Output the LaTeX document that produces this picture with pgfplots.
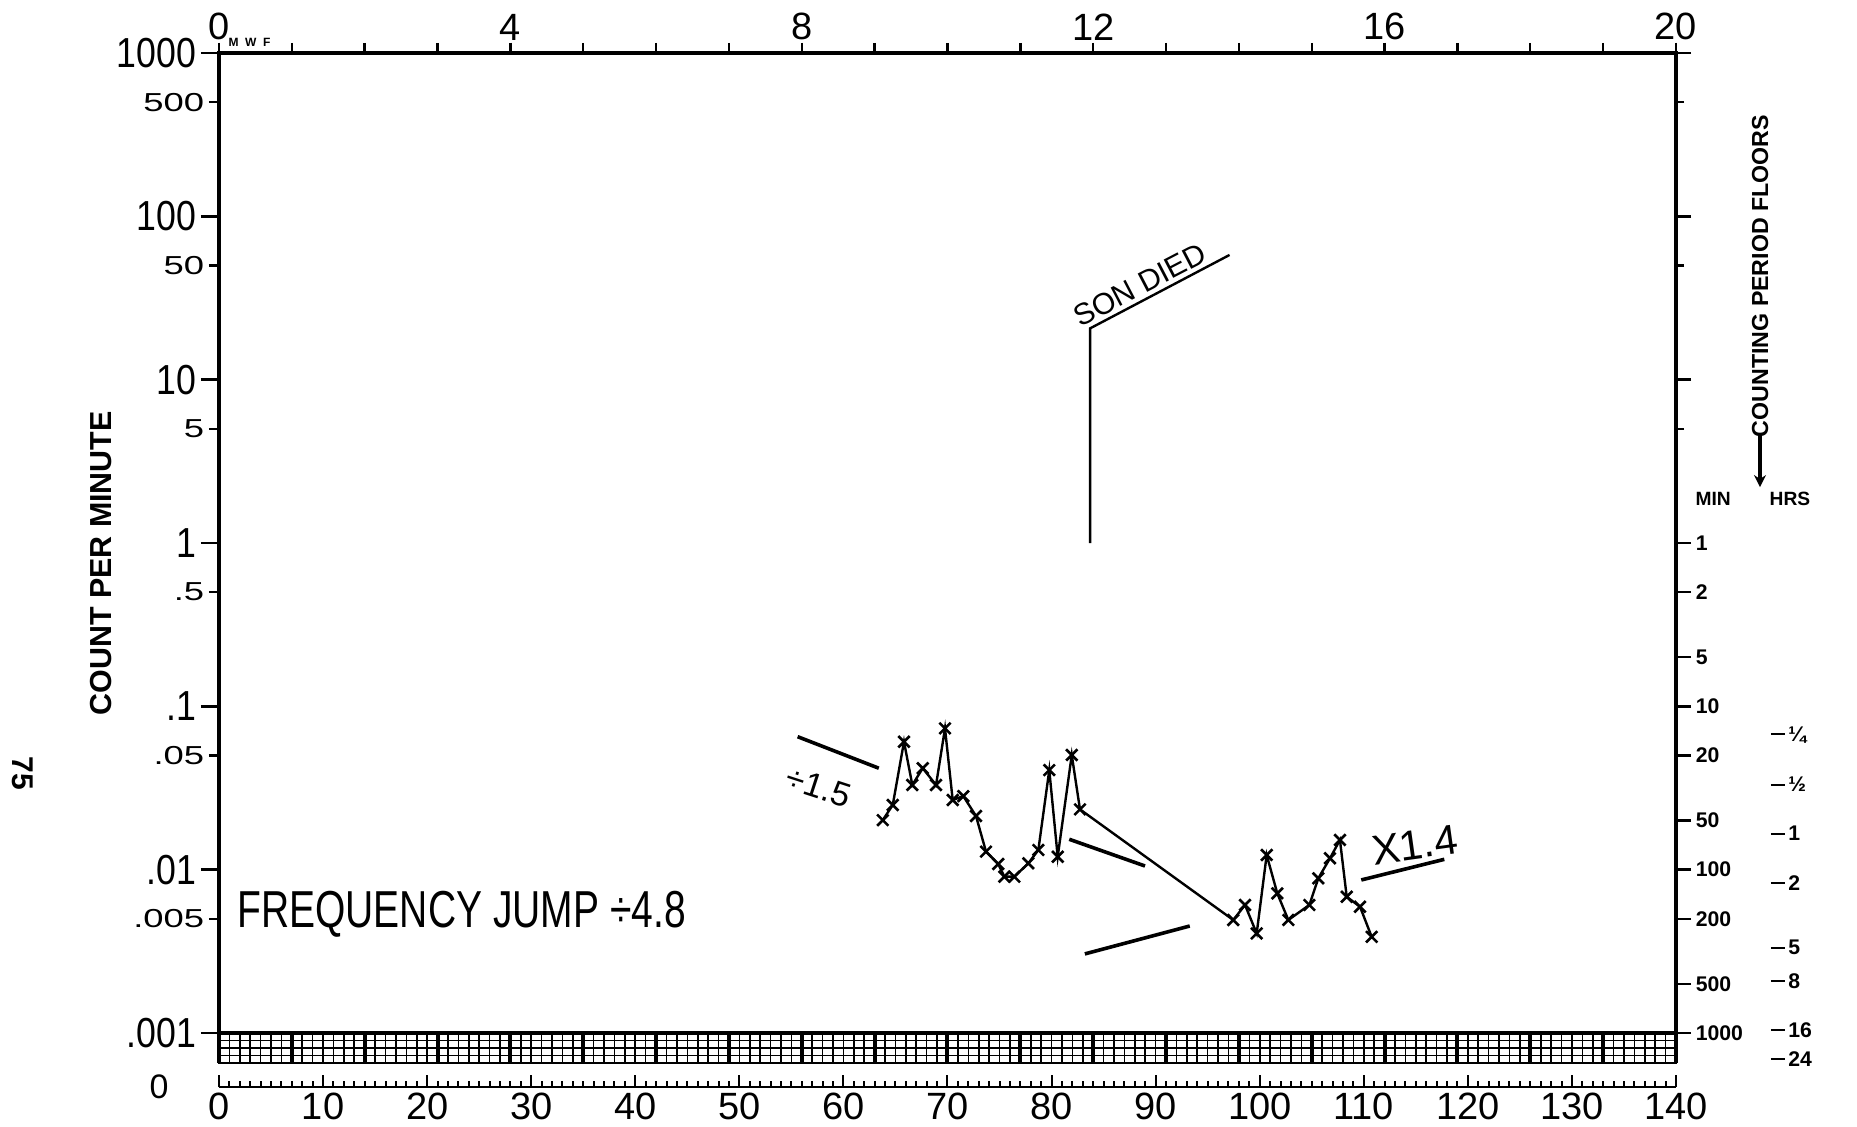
\documentclass[border=0pt]{standalone}
\usepackage{pgfplots}
\pgfplotsset{compat=1.18}
\usepackage{pgfplotstable}
\usepackage{fontspec}
\setmainfont{Liberation Sans}
\usetikzlibrary{arrows.meta}
\newcommand\bl[1]{\scalebox{0.85}[1]{\fontsize{10.5}{12}\selectfont #1}}
\newcommand\sm[1]{\scalebox{1.4}[1]{\fontsize{6.5}{7}\selectfont #1}}
\newcommand\hr[1]{\rule[0.55ex]{3.5pt}{0.5pt}\,#1}

\pgfplotstableread{
x y
63.78 0.0201
64.74 0.0249
65.82 0.0607
66.62 0.0330
67.62 0.0418
68.90 0.0330
69.76 0.0733
70.50 0.0267
71.52 0.0282
72.74 0.0213
73.70 0.0129
74.88 0.01083
75.46 0.00906
76.42 0.00906
77.77 0.01094
78.73 0.0132
79.78 0.0407
80.59 0.0120
81.94 0.0504
82.73 0.0234
97.46 0.00492
98.59 0.00608
99.71 0.00407
100.67 0.0123
101.69 0.00716
102.75 0.00492
104.77 0.00608
105.63 0.00885
106.75 0.01174
107.71 0.0152
108.36 0.00683
109.64 0.00593
110.76 0.00388
}\datatable

\begin{document}
\begin{tikzpicture}
\path[use as bounding box] (-54.75pt,-23.5pt) rectangle (409.5pt,258.25pt);

% grid strip below .001
\begin{axis}[at={(0,0)}, anchor=north west, scale only axis,
  width=364.25pt, height=7.5pt,
  xmin=0, xmax=140, ymin=0, ymax=4,
  xtick={0,...,140}, ytick={0,...,4},
  xticklabels={}, yticklabels={},
  major tick length=0pt,
  xmajorgrids, ymajorgrids,
  major grid style={black, line width=0.4pt},
  extra x ticks={0,7,...,140}, extra x tick labels={},
  extra x tick style={major grid style={black, line width=1pt}},
  axis line style={line width=0.7pt}]
\end{axis}

% zero row
\begin{axis}[at={(0,-13.5pt)}, anchor=south west, scale only axis,
  width=364.25pt, height=1pt,
  xmin=0, xmax=140, ymin=0, ymax=1,
  axis x line*=bottom, axis y line=none,
  xtick={0,10,...,140}, minor xtick={0,...,140},
  tick align=inside, major tick length=3pt, minor tick length=1.6pt,
  tick style={black, line width=0.5pt},
  /pgf/number format/assume math mode=true,
  xticklabel style={font=\fontsize{9.5}{11}\selectfont, inner sep=1.2pt},
  axis line style={-, line width=0.7pt}, clip=false]
\node[font=\fontsize{8.5}{10}\selectfont] at ([xshift=-15pt]axis cs:0,0) {0};
\end{axis}

% main axis
\begin{axis}[at={(0,0)}, anchor=south west, scale only axis,
  width=364.25pt, height=245pt,
  xmin=0, xmax=140, ymode=log, ymin=0.001, ymax=1000,
  xtick=\empty,
  ytick={0.001,0.01,0.1,1,10,100,1000},
  yticklabels={\bl{.001},\bl{.01},\bl{.1},\bl{1},\bl{10},\bl{100},\bl{1000}},
  yminorticks=false, ytick pos=left, tick align=outside,
  major tick length=4.5pt,
  yticklabel style={inner sep=1pt},
  extra y ticks={0.005,0.05,0.5,5,50,500},
  extra y tick labels={\sm{.005},\sm{.05},\sm{.5},\sm{5},\sm{50},\sm{500}},
  extra y tick style={major tick length=2.5pt},
  tick style={black, line width=0.6pt},
  axis line style={line width=0.8pt},
  clip=false]
\addplot[black, line width=0.6pt, mark=x, mark size=2pt, mark options={line width=0.65pt}] table[x=x, y=y] {\datatable};
% annotations
\addplot[black, line width=0.6pt] coordinates {(83.7,1) (83.7,20.6) (97.1,58)};
\addplot[black, line width=0.9pt] coordinates {(55.6,0.0652) (63.4,0.0418)};
\addplot[black, line width=0.9pt] coordinates {(81.7,0.01535) (88.98,0.01053)};
\addplot[black, line width=0.9pt] coordinates {(83.2,0.00305) (93.28,0.00452)};
\addplot[black, line width=0.9pt] coordinates {(109.76,0.00865) (117.74,0.01157)};
\node[rotate=27.5, anchor=south, inner sep=1pt, font=\fontsize{7.5}{9}\selectfont] at (axis cs:89.17,31.5) {SON DIED};
\node[rotate=-18, font=\fontsize{8.5}{10}\selectfont] at (axis cs:57.6,0.032) {÷1.5};
\node[rotate=8, font=\fontsize{10.5}{12}\selectfont] at (axis cs:114.9,0.0142) {X1.4};
\node[anchor=west, inner sep=0pt] at (axis cs:1.7,0.00533) {\scalebox{0.75}[1]{\fontsize{13}{14}\selectfont FREQUENCY JUMP ÷4.8}};
\node[rotate=90, font=\fontsize{7.6}{8}\bfseries\selectfont] at ([xshift=-29.5pt]axis cs:0,0.75) {COUNT PER MINUTE};
\node[rotate=-90, font=\fontsize{7.5}{9}\bfseries\selectfont] at ([xshift=-49.2pt]axis cs:0,0.039) {75};
\end{axis}

% right axis
\begin{axis}[at={(0,0)}, anchor=south west, scale only axis,
  width=364.25pt, height=245pt,
  xmin=0, xmax=140, ymode=log, ymin=0.001, ymax=1000,
  axis x line=none, axis y line*=right,
  ytick={0.001,0.002,0.005,0.01,0.02,0.05,0.1,0.2,0.5,1,10,100,1000},
  yticklabels={1000,500,200,100,50,20,10,5,2,1,,,},
  yminorticks=false, tick align=outside, major tick length=3.75pt,
  yticklabel style={font=\fontsize{5.3}{6}\bfseries\selectfont, anchor=west, inner sep=1pt},
  extra y ticks={5,50,500}, extra y tick labels={,,},
  extra y tick style={major tick length=2pt},
  tick style={black, line width=0.6pt},
  axis line style={-, line width=0.8pt}, clip=false]
\node[font=\fontsize{4.8}{6}\bfseries\selectfont] at ([xshift=9.3pt]axis cs:140,1.875) {MIN};
\node[font=\fontsize{4.8}{6}\bfseries\selectfont] at ([xshift=28.5pt]axis cs:140,1.875) {HRS};
\node[rotate=90, anchor=west, inner sep=0pt, font=\fontsize{5.8}{7}\bfseries\selectfont] at ([xshift=21pt]axis cs:140,4.4) {COUNTING PERIOD FLOORS};
\draw[line width=1.1pt, -{Stealth[length=3pt,width=3pt]}] ([xshift=21pt]axis cs:140,4.6) -- ([xshift=21pt]axis cs:140,2.2);
\node[anchor=west, inner sep=0pt, font=\fontsize{5.3}{6}\bfseries\selectfont] at ([xshift=23.5pt]axis cs:140,0.0667) {\hr{¼}};
\node[anchor=west, inner sep=0pt, font=\fontsize{5.3}{6}\bfseries\selectfont] at ([xshift=23.5pt]axis cs:140,0.0333) {\hr{½}};
\node[anchor=west, inner sep=0pt, font=\fontsize{5.3}{6}\bfseries\selectfont] at ([xshift=23.5pt]axis cs:140,0.01667) {\hr{1}};
\node[anchor=west, inner sep=0pt, font=\fontsize{5.3}{6}\bfseries\selectfont] at ([xshift=23.5pt]axis cs:140,0.00833) {\hr{2}};
\node[anchor=west, inner sep=0pt, font=\fontsize{5.3}{6}\bfseries\selectfont] at ([xshift=23.5pt]axis cs:140,0.00333) {\hr{5}};
\node[anchor=west, inner sep=0pt, font=\fontsize{5.3}{6}\bfseries\selectfont] at ([xshift=23.5pt]axis cs:140,0.002083) {\hr{8}};
\node[anchor=west, inner sep=0pt, font=\fontsize{5.3}{6}\bfseries\selectfont] at ([xshift=23.5pt]axis cs:140,0.0010417) {\hr{16}};
\node[anchor=west, inner sep=0pt, font=\fontsize{5.3}{6}\bfseries\selectfont] at ([xshift=23.5pt]axis cs:140,0.000694) {\hr{24}};
\end{axis}

% top axis (weeks)
\begin{axis}[at={(0,0)}, anchor=south west, scale only axis,
  width=364.25pt, height=245pt,
  xmin=0, xmax=20, ymin=0, ymax=1,
  axis x line*=top, axis y line=none,
  xtick={0,4,...,20}, minor xtick={0,...,20},
  tick align=outside, major tick length=2.5pt, minor tick length=2.5pt,
  tick style={black, line width=0.6pt},
  /pgf/number format/assume math mode=true,
  xticklabel style={font=\fontsize{9.5}{11}\selectfont, inner sep=0.5pt},
  axis line style={-, line width=0.8pt}, clip=false]
\node[anchor=south west, inner sep=0pt, font=\fontsize{3}{3}\bfseries\selectfont] at ([yshift=1.5pt]axis cs:0.12,1) {M\ \ W\ \ F};
\end{axis}
\end{tikzpicture}
\end{document}
